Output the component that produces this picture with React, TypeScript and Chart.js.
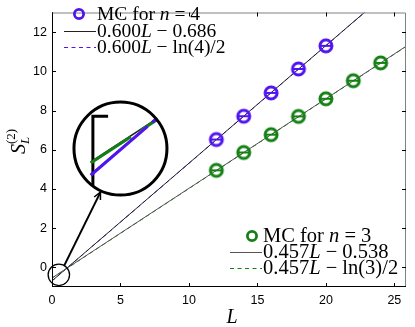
import React, { useEffect, useRef } from "react";
import { Chart, registerables } from "chart.js";

Chart.register(...registerables);

// ---- data ----
const L_n4 = [12, 14, 16, 18, 20];
const S_n4 = [6.52, 7.71, 8.9, 10.12, 11.3];
const L_n3 = [12, 14, 16, 18, 20, 22, 24];
const S_n3 = [4.95, 5.86, 6.77, 7.7, 8.6, 9.52, 10.43];

// fit lines from the legend formulas: [slope, intercept]
const fit4Solid = [0.6, -0.686];
const fit4Dashed = [0.6, -Math.log(4) / 2];
const fit3Solid = [0.457, -0.538];
const fit3Dashed = [0.457, -Math.log(3) / 2];
const fitRange = [0, 26];

const xTicks = [0, 5, 10, 15, 20, 25];
const yTicks = [0, 2, 4, 6, 8, 10, 12];
const xLimits = [0, 25.85];
const yLimits = [-1, 13];

// inset (data units): zoomed region near origin, inset circle, arrow
const zoomCenter = [0.5, -0.38];
const insetCenter = [5.0, 6.06];
const arrowFrom = [0.9, 0.1];
const arrowTo = [3.54, 3.84];

const BLUE = "rgb(80,20,240)";
const GREEN = "rgb(20,128,20)";
const DARK = "#222222";
const GRAY = "#555555";

type Run = { t: string; i?: boolean };
const legendTop: Run[][] = [
  [{ t: "MC for " }, { t: "n", i: true }, { t: " = 4" }],
  [{ t: "0.600" }, { t: "L", i: true }, { t: " − 0.686" }],
  [{ t: "0.600" }, { t: "L", i: true }, { t: " − ln(4)/2" }],
];
const legendBottom: Run[][] = [
  [{ t: "MC for " }, { t: "n", i: true }, { t: " = 3" }],
  [{ t: "0.457" }, { t: "L", i: true }, { t: " − 0.538" }],
  [{ t: "0.457" }, { t: "L", i: true }, { t: " − ln(3)/2" }],
];

const SERIF = '"Liberation Serif", "DejaVu Serif", serif';

function drawRuns(ctx: CanvasRenderingContext2D, runs: Run[], x: number, y: number, size: number) {
  let cx = x;
  ctx.textBaseline = "middle";
  ctx.textAlign = "left";
  for (const r of runs) {
    ctx.font = `${r.i ? "italic " : ""}${size}px ${SERIF}`;
    ctx.fillText(r.t, cx, y);
    cx += ctx.measureText(r.t).width;
  }
}

function lineData(fit: number[]) {
  return fitRange.map((x) => ({ x, y: fit[0] * x + fit[1] }));
}

function pts(xs: number[], ys: number[]) {
  return xs.map((x, i) => ({ x, y: ys[i] }));
}

// open circle with a horizontal error-bar cap through it
function makeMarker(color: string) {
  const size = 18;
  const c = document.createElement("canvas");
  c.width = size;
  c.height = size;
  const g = c.getContext("2d")!;
  const m = size / 2;
  g.strokeStyle = color;
  g.lineWidth = 3;
  g.beginPath();
  g.arc(m, m, 6, 0, Math.PI * 2);
  g.stroke();
  g.lineWidth = 2;
  g.beginPath();
  g.moveTo(m - 6, m);
  g.lineTo(m + 6, m);
  g.stroke();
  return c;
}

const decorPlugin = {
  id: "decor",
  afterDatasetsDraw(chart: any) {
    const ctx: CanvasRenderingContext2D = chart.ctx;
    const xs = chart.scales.x;
    const ys = chart.scales.y;
    const a = chart.chartArea;
    const px = (v: number) => xs.getPixelForValue(v);
    const py = (v: number) => ys.getPixelForValue(v);

    ctx.save();
    // frame
    ctx.lineWidth = 1;
    ctx.strokeStyle = "#808080";
    ctx.beginPath();
    ctx.moveTo(a.left, a.top + 0.5);
    ctx.lineTo(a.right - 0.5, a.top + 0.5);
    ctx.lineTo(a.right - 0.5, a.bottom);
    ctx.stroke();
    ctx.strokeStyle = "#000";
    ctx.beginPath();
    ctx.moveTo(a.left + 0.5, a.top);
    ctx.lineTo(a.left + 0.5, a.bottom - 0.5);
    ctx.lineTo(a.right, a.bottom - 0.5);
    ctx.stroke();
    // ticks
    const tl = 4;
    ctx.strokeStyle = "#000";
    ctx.beginPath();
    for (const v of xTicks) {
      const x = Math.round(px(v)) + 0.5;
      ctx.moveTo(x, a.bottom);
      ctx.lineTo(x, a.bottom - tl);
      ctx.moveTo(x, a.top);
      ctx.lineTo(x, a.top + tl);
    }
    for (const v of yTicks) {
      const y = Math.round(py(v)) + 0.5;
      ctx.moveTo(a.left, y);
      ctx.lineTo(a.left + tl, y);
      ctx.moveTo(a.right, y);
      ctx.lineTo(a.right - tl, y);
    }
    ctx.stroke();

    // small zoom circle
    const sx = px(zoomCenter[0]);
    const sy = py(zoomCenter[1]);
    const zr = 10.7;
    const bx = px(insetCenter[0]);
    const by = py(insetCenter[1]);
    const br = 46.5;
    const k = br / zr;

    ctx.lineWidth = 1.3;
    ctx.strokeStyle = "#000";
    ctx.beginPath();
    ctx.arc(sx, sy, zr, 0, Math.PI * 2);
    ctx.stroke();

    // arrow
    const ax0 = px(arrowFrom[0]), ay0 = py(arrowFrom[1]);
    const ax1 = px(arrowTo[0]), ay1 = py(arrowTo[1]);
    const ang = Math.atan2(ay1 - ay0, ax1 - ax0);
    ctx.lineWidth = 2;
    ctx.beginPath();
    ctx.moveTo(ax0, ay0);
    ctx.lineTo(ax1, ay1);
    ctx.stroke();
    ctx.lineWidth = 1.5;
    ctx.beginPath();
    ctx.moveTo(ax1 - 8 * Math.cos(ang - 0.45), ay1 - 8 * Math.sin(ang - 0.45));
    ctx.lineTo(ax1, ay1);
    ctx.lineTo(ax1 - 8 * Math.cos(ang + 0.45), ay1 - 8 * Math.sin(ang + 0.45));
    ctx.stroke();

    // inset
    ctx.save();
    ctx.beginPath();
    ctx.arc(bx, by, br, 0, Math.PI * 2);
    ctx.fillStyle = "#fff";
    ctx.fill();
    ctx.clip();
    ctx.translate(bx, by);
    ctx.scale(k, k);
    ctx.translate(-sx, -sy);
    // axis
    ctx.strokeStyle = "#000";
    ctx.lineWidth = 3 / k;
    ctx.beginPath();
    ctx.moveTo(a.left + 0.5 + 3.5, py(0));
    ctx.lineTo(a.left + 0.5, py(0));
    ctx.lineTo(a.left + 0.5, a.bottom);
    ctx.stroke();
    const drawFit = (fit: number[], color: string, w: number, dash: number[]) => {
      ctx.strokeStyle = color;
      ctx.lineWidth = w / k;
      ctx.setLineDash(dash.map((d) => d / k));
      ctx.beginPath();
      ctx.moveTo(px(fitRange[0]), py(fit[0] * fitRange[0] + fit[1]));
      ctx.lineTo(px(4), py(fit[0] * 4 + fit[1]));
      ctx.stroke();
    };
    drawFit(fit3Solid, DARK, 1.6, []);
    drawFit(fit4Solid, DARK, 1.6, []);
    drawFit(fit3Dashed, GREEN, 3, [48, 12]);
    drawFit(fit4Dashed, BLUE, 3, [75, 6]);
    ctx.restore();
    ctx.lineWidth = 3;
    ctx.strokeStyle = "#000";
    ctx.setLineDash([]);
    ctx.beginPath();
    ctx.arc(bx, by, br, 0, Math.PI * 2);
    ctx.stroke();

    // legends
    ctx.fillStyle = "#000";
    const legend = (
      runs: Run[][],
      mx: number,
      tx: number,
      rows: number[],
      color: string,
      solidColor: string,
      fs: number
    ) => {
      ctx.setLineDash([]);
      ctx.lineWidth = 2.8;
      ctx.strokeStyle = color;
      ctx.beginPath();
      ctx.arc(mx, rows[0], 4.6, 0, Math.PI * 2);
      ctx.stroke();
      ctx.lineWidth = 1;
      ctx.strokeStyle = solidColor;
      ctx.beginPath();
      ctx.moveTo(tx - 33, rows[1] + 0.5);
      ctx.lineTo(tx - 1, rows[1] + 0.5);
      ctx.stroke();
      ctx.strokeStyle = color;
      ctx.setLineDash([4, 3.5]);
      ctx.beginPath();
      ctx.moveTo(tx - 33, rows[2] + 0.5);
      ctx.lineTo(tx - 1, rows[2] + 0.5);
      ctx.stroke();
      ctx.setLineDash([]);
      runs.forEach((r, i) => drawRuns(ctx, r, tx, rows[i] + 1, fs));
    };
    legend(legendTop, 79, 97, [14, 31, 47], BLUE, DARK, 19.5);
    legend(legendBottom, 252, 263, [236, 252, 268], GREEN, GRAY, 20.5);

    // axis labels
    ctx.fillStyle = "#000";
    ctx.textBaseline = "middle";
    ctx.textAlign = "center";
    ctx.font = `italic 20px ${SERIF}`;
    ctx.fillText("L", 232, 318);

    ctx.save();
    ctx.translate(19, 138);
    ctx.rotate(-Math.PI / 2);
    ctx.textAlign = "left";
    ctx.textBaseline = "alphabetic";
    ctx.font = `italic 20px ${SERIF}`;
    const sW = ctx.measureText("S").width;
    const x0 = -16;
    ctx.fillText("S", x0, 6);
    ctx.font = `italic 13px ${SERIF}`;
    ctx.fillText("L", x0 + sW, 10);
    ctx.font = `13px ${SERIF}`;
    ctx.fillText("(2)", x0 + sW, -4);
    ctx.restore();

    ctx.restore();
  },
};

export default function App() {
  const ref = useRef<HTMLCanvasElement>(null);
  useEffect(() => {
    const canvas = ref.current!;
    const line = (fit: number[], color: string, dash: number[]) => ({
      type: "line" as const,
      data: lineData(fit),
      borderColor: color,
      borderWidth: 1,
      borderDash: dash,
      pointRadius: 0,
      fill: false,
    });
    const markers = (xs: number[], ys: number[], color: string) => ({
      type: "scatter" as const,
      data: pts(xs, ys),
      borderColor: color,
      backgroundColor: color,
      pointRadius: 8,
      pointStyle: makeMarker(color),
    });
    const chart = new Chart(canvas, {
      type: "scatter",
      data: {
        datasets: [
          markers(L_n3, S_n3, GREEN),
          markers(L_n4, S_n4, BLUE),
          line(fit3Solid, GRAY, []),
          line(fit3Dashed, GREEN, [4, 3.5]),
          line(fit4Solid, DARK, []),
          line(fit4Dashed, BLUE, [4, 3.5]),
        ] as any,
      },
      options: {
        animation: false,
        responsive: false,
        events: [],
        layout: { padding: { top: 3, right: 2, left: 0, bottom: 0 } },
        plugins: { legend: { display: false }, tooltip: { enabled: false } },
        scales: {
          x: {
            type: "linear",
            min: xLimits[0],
            max: xLimits[1],
            grid: { display: false, drawTicks: false },
            border: { display: false },
            afterBuildTicks: (s: any) => {
              s.ticks = xTicks.map((v) => ({ value: v }));
            },
            afterFit: (s: any) => {
              s.height = 40;
            },
            ticks: {
              padding: 6,
              color: "#000",
              maxRotation: 0,
              autoSkip: false,
              font: { family: '"Liberation Sans", Arial, sans-serif', size: 12.5 },
            },
          },
          y: {
            type: "linear",
            min: yLimits[0],
            max: yLimits[1],
            grid: { display: false, drawTicks: false },
            border: { display: false },
            afterBuildTicks: (s: any) => {
              s.ticks = yTicks.map((v) => ({ value: v }));
            },
            afterFit: (s: any) => {
              s.width = 52;
            },
            ticks: {
              padding: 5,
              color: "#000",
              autoSkip: false,
              font: { family: '"Liberation Sans", Arial, sans-serif', size: 12.5 },
            },
          },
        },
      },
      plugins: [decorPlugin],
    });
    return () => chart.destroy();
  }, []);
  return (
    <div style={{ position: "fixed", left: 0, top: 0, width: 415, height: 327, background: "#fff" }}>
      <canvas ref={ref} width={415} height={327} style={{ width: 415, height: 327 }} />
    </div>
  );
}
